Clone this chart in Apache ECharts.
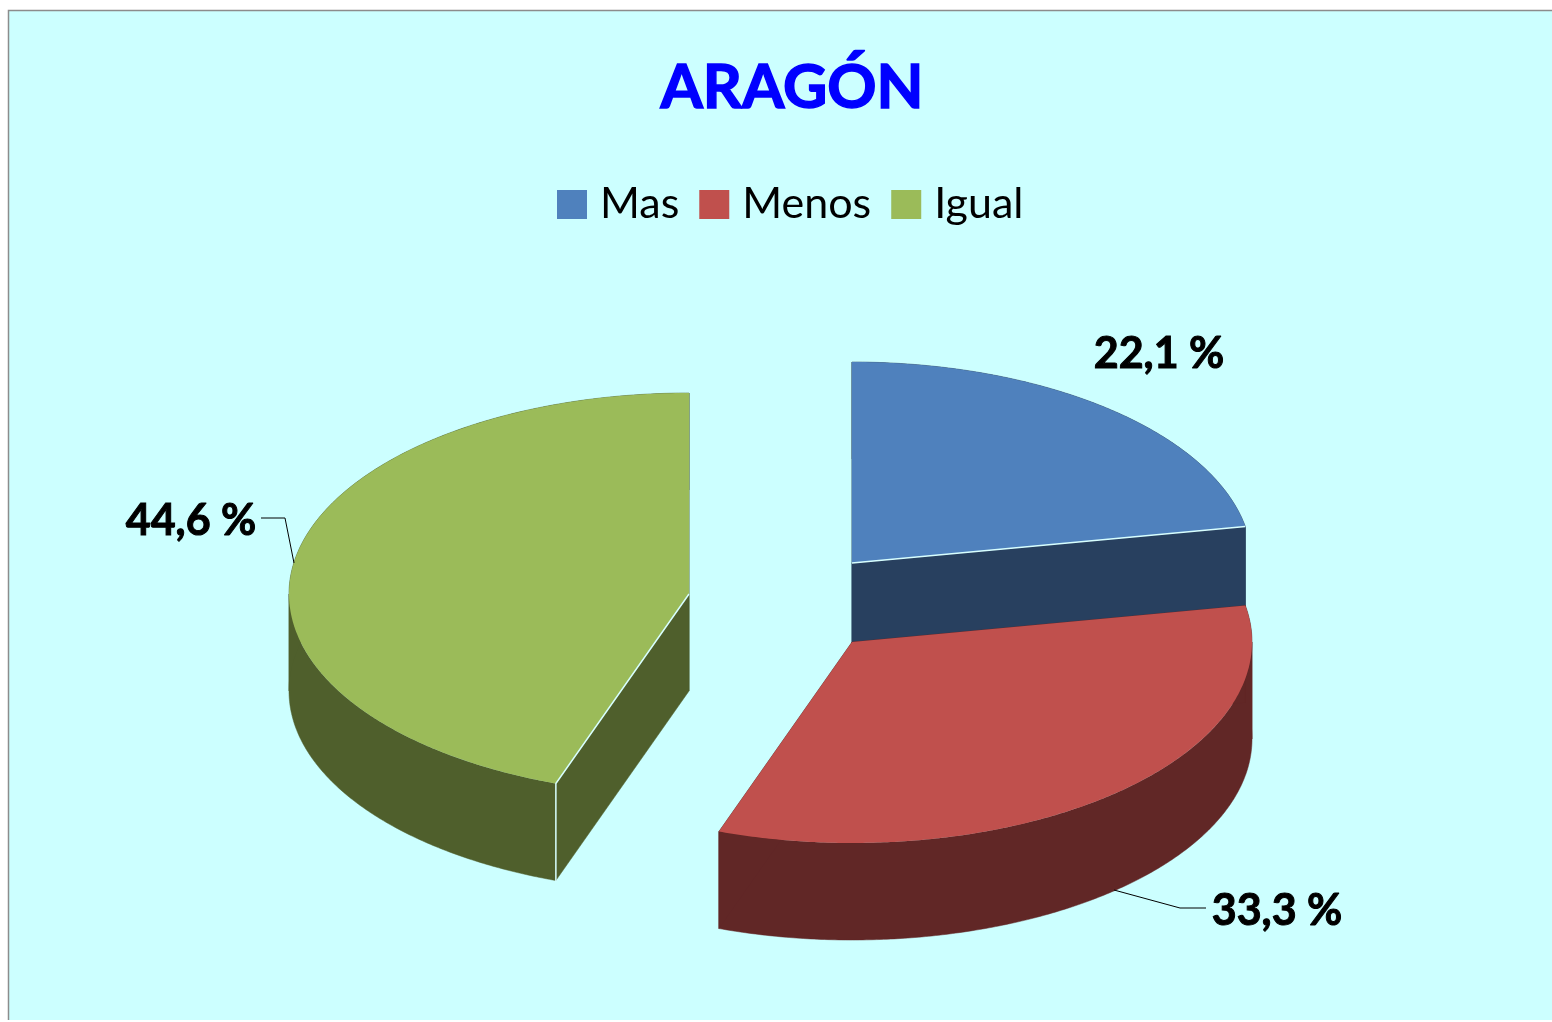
<!DOCTYPE html>
<html>
<head>
<meta charset="utf-8">
<title>ARAGÓN</title>
<style>html,body{margin:0;padding:0;background:#fff}#main{width:1552px;height:1022px}</style>
<script src="https://cdn.jsdelivr.net/npm/echarts@6/dist/echarts.min.js"></script>
</head>
<body>
<div id="main"></div>
<script>
var titleText = 'ARAGÓN';
var categories = ['Mas', 'Menos', 'Igual'];
var values = [22.1, 33.3, 44.6];
var valueLabels = ['22,1 %', '33,3 %', '44,6 %'];

var topColors = ['#4F81BD', '#C0504D', '#9BBB59'];
var sideColors = ['#28405F', '#612726', '#4F5F2C'];
var centers = [[852, 563], [852, 642], [689, 594]];
var RX = 400, RY = 201, DEPTH = 97;
var labelPos = [[1159, 354], [1277, 911], [191, 521]];
var leaders = [null,
  [[1114, 890], [1180, 908], [1206, 908]],
  [[261, 518], [285, 518], [294, 563]]];
var FONT = 'Lato, Carlito, "Open Sans", sans-serif';

var total = values.reduce(function (a, b) { return a + b; }, 0);

function pt(c, deg, dy) {
  var t = deg * Math.PI / 180;
  return [c[0] + RX * Math.sin(t), c[1] - RY * Math.cos(t) + (dy || 0)];
}
function arc(c, a0, a1, dy) {
  var out = [], n = Math.max(2, Math.ceil(Math.abs(a1 - a0) * 2));
  for (var i = 0; i <= n; i++) out.push(pt(c, a0 + (a1 - a0) * i / n, dy));
  return out;
}
// Split an angular range where the ellipse turns back on itself horizontally.
function splitRange(a0, a1) {
  var cuts = [a0];
  [90, 270].forEach(function (b) { if (b > a0 && b < a1) cuts.push(b); });
  cuts.push(a1);
  return cuts;
}

function renderSlice(idx) {
  return function (params, api) {
    var v = api.value(0);
    var before = 0;
    for (var i = 0; i < idx; i++) before += values[i];
    var a0 = before / total * 360;
    var a1 = a0 + v / total * 360;
    var c = centers[idx];
    var sideLine = { fill: sideColors[idx], stroke: sideColors[idx], lineWidth: 0.5 };
    var c2 = [c[0], c[1] + DEPTH];
    var children = [];

    // outer wall, one strip per monotonic piece
    var cuts = splitRange(a0, a1);
    for (var k = 0; k < cuts.length - 1; k++) {
      var upper = arc(c, cuts[k], cuts[k + 1], 0), lower = arc(c, cuts[k], cuts[k + 1], DEPTH).reverse();
      children.push({ type: 'polygon', shape: { points: upper.concat(lower) }, style: sideLine });
    }
    // radial walls
    [a0, a1].forEach(function (a) {
      children.push({ type: 'polygon', shape: { points: [c, pt(c, a), pt(c, a, DEPTH), c2] }, style: sideLine });
    });
    // top face
    children.push({
      type: 'polygon',
      shape: { points: [c].concat(arc(c, a0, a1, 0)) },
      style: { fill: topColors[idx] }
    });
    // light edges
    if (idx === 0) {
      children.push({ type: 'polyline', shape: { points: [c, pt(c, a1)] },
        style: { fill: null, stroke: '#D8FFFF', lineWidth: 1.5 } });
    }
    if (idx === 2) {
      children.push({ type: 'polyline', shape: { points: [c, pt(c, a0), pt(c, a0, DEPTH + 1)] },
        style: { fill: null, stroke: '#D8FFFF', lineWidth: 1.5 } });
    }
    // leader
    if (leaders[idx]) {
      children.push({ type: 'polyline', shape: { points: leaders[idx] },
        style: { fill: null, stroke: '#000', lineWidth: 1 } });
    }
    // value label
    children.push({
      type: 'text',
      style: {
        text: valueLabels[idx], x: labelPos[idx][0], y: labelPos[idx][1],
        fill: '#000', stroke: '#000', lineWidth: 1,
        fontFamily: FONT, fontWeight: 'bold', fontSize: 43,
        align: 'center', verticalAlign: 'middle'
      }
    });
    return { type: 'group', children: children };
  };
}

var chart = echarts.init(document.getElementById('main'), null, { renderer: 'canvas' });
chart.setOption({
  animation: false,
  backgroundColor: '#fff',
  title: {
    text: titleText, left: 787, top: 53, textAlign: 'center',
    textStyle: {
      color: '#0000FF', fontFamily: FONT, fontWeight: 'bold', fontSize: 61,
      textBorderColor: '#0000FF', textBorderWidth: 1.5
    }
  },
  legend: {
    data: categories, left: 552, top: 178, orient: 'horizontal',
    icon: 'rect', itemWidth: 30, itemHeight: 29, itemGap: 20,
    selectedMode: false,
    textStyle: { color: '#000', fontFamily: FONT, fontSize: 43, padding: [0, 0, 0, 8] }
  },
  graphic: [{
    type: 'rect', z: -10, silent: true,
    shape: { x: 8, y: 10, width: 1544, height: 1010 },
    style: { fill: '#CCFFFF' }
  }, {
    type: 'polyline', z: -9, silent: true,
    shape: { points: [[8.5, 1020], [8.5, 10.5], [1552, 10.5]] },
    style: { fill: null, stroke: '#8C8C8C', lineWidth: 1.5 }
  }],
  series: categories.map(function (name, i) {
    return {
      type: 'custom', name: name, coordinateSystem: 'none', silent: true,
      itemStyle: { color: topColors[i] },
      data: [{ name: name, value: [values[i]] }],
      renderItem: renderSlice(i), z: 2 + i
    };
  })
});
</script>
</body>
</html>
